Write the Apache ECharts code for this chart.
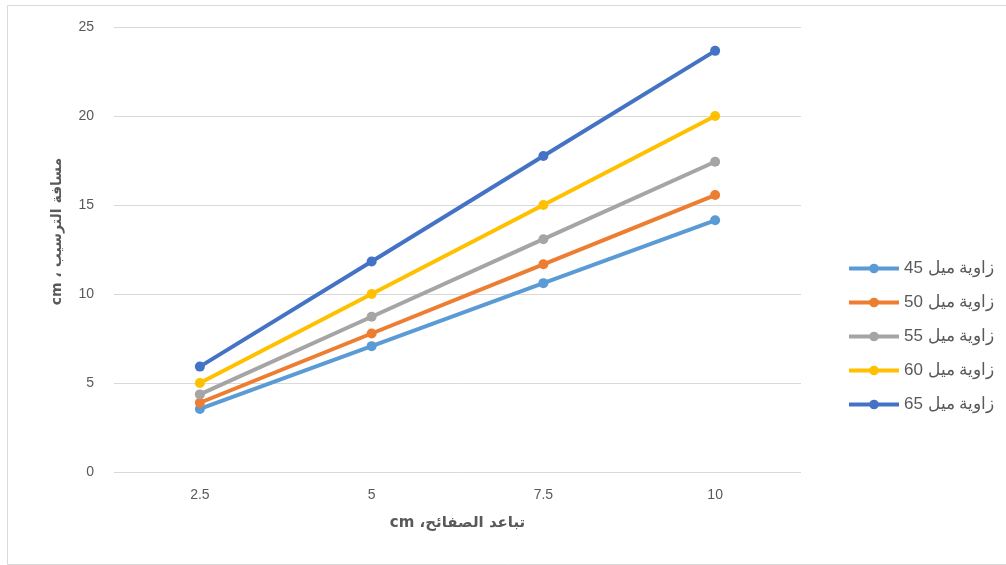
<!DOCTYPE html>
<html>
<head>
<meta charset="utf-8">
<script src="https://cdn.jsdelivr.net/npm/echarts@6/dist/echarts.min.js"></script>
<style>html,body{margin:0;padding:0;background:#fff;}#c{width:1006px;height:565px;}</style>
</head>
<body>
<div id="c"></div>
<script>
const categories = ['2.5', '5', '7.5', '10'];
const seriesNames = ['45 زاوية ميل', '50 زاوية ميل', '55 زاوية ميل', '60 زاوية ميل', '65 زاوية ميل'];
const s45 = [3.54, 7.07, 10.61, 14.14];
const s50 = [3.89, 7.78, 11.67, 15.56];
const s55 = [4.36, 8.72, 13.08, 17.43];
const s60 = [5.0, 10.0, 15.0, 20.0];
const s65 = [5.92, 11.83, 17.75, 23.66];
const colors = ['#5B9BD5', '#ED7D31', '#A5A5A5', '#FFC000', '#4472C4'];
const yTitle = 'cm ، مسافة الترسيب';
const xTitle = 'cm ،تباعد الصفائح';

const allData = [s45, s50, s55, s60, s65];
const chart = echarts.init(document.getElementById('c'));
chart.setOption({
  animation: false,
  backgroundColor: '#fff',
  grid: { left: 114, right: 205, top: 27, bottom: 93 },
  legend: {
    orient: 'vertical',
    left: 842, top: 255,
    itemWidth: 50, itemHeight: 12, itemGap: 17,
    itemStyle: { borderWidth: 0 },
    lineStyle: { width: 4 },
    textStyle: { fontFamily: 'Liberation Sans, Arial', fontSize: 17, color: '#595959' },
    data: seriesNames
  },
  xAxis: {
    type: 'category', data: categories, boundaryGap: true,
    axisLine: { show: false }, axisTick: { show: false },
    axisLabel: { color: '#595959', fontSize: 14, margin: 16, fontFamily: 'Liberation Sans, Arial' },
    name: xTitle, nameLocation: 'middle', nameGap: 44,
    nameTextStyle: { color: '#595959', fontSize: 15, fontWeight: 'bold', fontFamily: 'DejaVu Sans, Liberation Sans' }
  },
  yAxis: {
    type: 'value', min: 0, max: 25, interval: 5,
    axisLine: { show: false }, axisTick: { show: false },
    splitLine: { lineStyle: { color: '#d9d9d9', width: 1 } },
    axisLabel: { color: '#595959', fontSize: 14, margin: 20, fontFamily: 'Liberation Sans, Arial' },
    name: yTitle, nameLocation: 'middle', nameGap: 50, nameRotate: 90,
    nameTextStyle: { color: '#595959', fontSize: 14, fontWeight: 'bold', fontFamily: 'DejaVu Sans, Liberation Sans', padding: [0, 0, 0, 36] }
  },
  graphic: [
    { type: 'rect', shape: { x: 7.5, y: 5.5, width: 1100, height: 559 }, style: { fill: 'none', stroke: '#d9d9d9', lineWidth: 1 }, silent: true }
  ],
  series: allData.map((d, i) => ({
    name: seriesNames[i], type: 'line', data: d,
    color: colors[i],
    symbol: 'circle', symbolSize: 10,
    lineStyle: { width: 4, color: colors[i] },
    itemStyle: { color: colors[i] },
    z: 2 + i
  }))
});
</script>
</body>
</html>
